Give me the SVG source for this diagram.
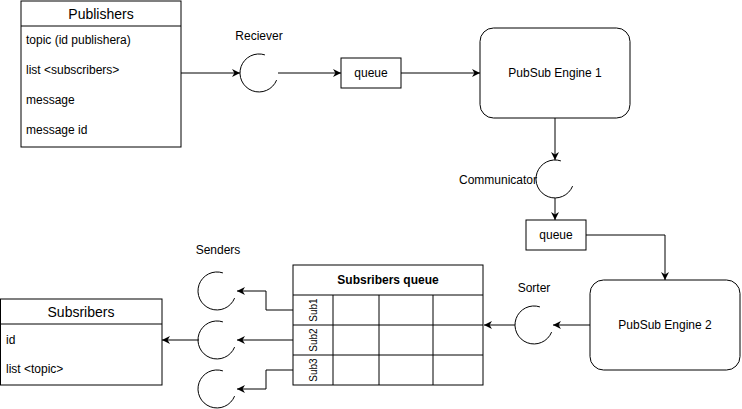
<svg xmlns="http://www.w3.org/2000/svg" width="742" height="409" viewBox="0 0 742 409">
<style>
text{font-family:"Liberation Sans",Arial,sans-serif;font-size:12px;fill:#000}
.t14{font-size:14px}
.b{font-weight:bold}
.sub{font-family:"Liberation Sans",Arial,sans-serif;font-size:10px}
.box{fill:#fff;stroke:#000;stroke-width:1}
.ln{fill:none;stroke:#000;stroke-width:1}
.arc{fill:none;stroke:#000;stroke-width:1}
.edge{fill:none;stroke:#000;stroke-width:1;marker-end:url(#arr)}
</style>
<defs>
<marker id="arr" viewBox="0 0 10 10" refX="10" refY="5" markerWidth="8" markerHeight="8" markerUnits="userSpaceOnUse" orient="auto">
<path d="M0,0 L10,5 L0,10 L3,5 Z" fill="#000"/>
</marker>
<path id="arcshape" d="M5.9,-18.1 A19,19 0 1 0 17.6,7.1"/>
</defs>
<rect width="742" height="409" fill="#fff"/>

<g id="connectors">
<path class="edge" d="M181,73 L240,73"/>
<path class="edge" d="M278,73 L341,73"/>
<path class="edge" d="M401,73 L480,73"/>
<path class="edge" d="M555,118 L555,160"/>
<path class="edge" d="M555,198 L555,220"/>
<path class="edge" d="M586,235 L665,235 L665,280"/>
<path class="edge" d="M590,325 L553,325"/>
<path class="edge" d="M515,325 L484,325"/>
<path class="edge" d="M293,310 L266,310 L266,291 L237,291"/>
<path class="edge" d="M293,340 L237,340"/>
<path class="edge" d="M293,370 L266,370 L266,389 L237,389"/>
<path class="edge" d="M199,340 L162,340"/>
</g>

<g id="publishers">
<rect class="box" x="21" y="1" width="160" height="146"/>
<line class="ln" x1="21" y1="26" x2="181" y2="26"/>
<text class="t14" x="101" y="19" text-anchor="middle">Publishers</text>
<text x="26" y="44">topic (id publishera)</text>
<text x="26" y="74">list &lt;subscribers&gt;</text>
<text x="26" y="104">message</text>
<text x="26" y="134">message id</text>
</g>

<g id="reciever">
<use href="#arcshape" class="arc" x="259" y="73"/>
<text x="259" y="40" text-anchor="middle">Reciever</text>
</g>

<g id="queue1">
<rect class="box" x="341" y="58" width="60" height="30"/>
<text x="371" y="77" text-anchor="middle">queue</text>
</g>

<g id="engine1">
<rect class="box" x="480" y="28" width="150" height="90" rx="13.5" ry="13.5"/>
<text x="555" y="77" text-anchor="middle">PubSub Engine 1</text>
</g>

<g id="communicator">
<use href="#arcshape" class="arc" x="555" y="179"/>
<text x="537" y="184" text-anchor="end">Communicator</text>
</g>

<g id="queue2">
<rect class="box" x="526" y="220" width="60" height="30"/>
<text x="556" y="239" text-anchor="middle">queue</text>
</g>

<g id="engine2">
<rect class="box" x="590" y="280" width="150" height="90" rx="13.5" ry="13.5"/>
<text x="665" y="329" text-anchor="middle">PubSub Engine 2</text>
</g>

<g id="sorter">
<use href="#arcshape" class="arc" x="534" y="325"/>
<text x="534" y="292" text-anchor="middle">Sorter</text>
</g>

<g id="subsribers-queue">
<rect class="box" x="293" y="265" width="190" height="120"/>
<line class="ln" x1="293" y1="295" x2="483" y2="295"/>
<line class="ln" x1="293" y1="325" x2="483" y2="325"/>
<line class="ln" x1="293" y1="355" x2="483" y2="355"/>
<line class="ln" x1="333" y1="295" x2="333" y2="385"/>
<line class="ln" x1="379" y1="295" x2="379" y2="385"/>
<line class="ln" x1="433" y1="295" x2="433" y2="385"/>
<text class="b" x="388" y="284" text-anchor="middle">Subsribers queue</text>
<text class="sub" transform="translate(317,310) rotate(-90)" text-anchor="middle">Sub1</text>
<text class="sub" transform="translate(317,340) rotate(-90)" text-anchor="middle">Sub2</text>
<text class="sub" transform="translate(317,370) rotate(-90)" text-anchor="middle">Sub3</text>
</g>

<g id="senders">
<use href="#arcshape" class="arc" x="217" y="291"/>
<use href="#arcshape" class="arc" x="217" y="340"/>
<use href="#arcshape" class="arc" x="217" y="389"/>
<text x="218" y="254" text-anchor="middle">Senders</text>
</g>

<g id="subsribers">
<rect class="box" x="0.5" y="299" width="161.5" height="86"/>
<line class="ln" x1="0.5" y1="324" x2="162" y2="324"/>
<text class="t14" x="81" y="317" text-anchor="middle">Subsribers</text>
<text x="6" y="344">id</text>
<text x="6" y="373">list &lt;topic&gt;</text>
</g>
</svg>
